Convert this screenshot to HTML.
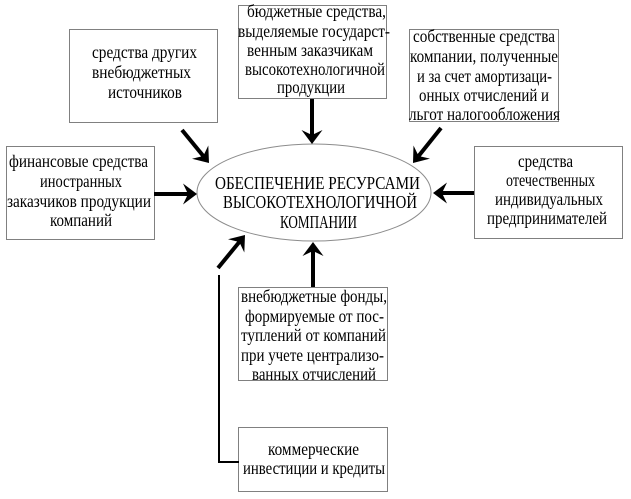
<!DOCTYPE html>
<html>
<head>
<meta charset="utf-8">
<style>
  html, body { margin:0; padding:0; background:#fff; }
  body { width:631px; height:499px; overflow:hidden; }
  svg { display:block; }
  text { font-family: "Liberation Serif", "DejaVu Serif", serif; fill:#000; }
  .t { font-size:17.5px; }
  .e { font-size:17.5px; }
</style>
</head>
<body>
<svg width="631" height="499" viewBox="0 0 631 499" xmlns="http://www.w3.org/2000/svg">
  <rect x="0" y="0" width="631" height="499" fill="#fff"/>

  <!-- Boxes -->
  <g fill="#fff" stroke="#808080" stroke-width="1">
    <rect x="69.5" y="29.5" width="148" height="93"/>
    <rect x="238.5" y="5.5" width="148" height="93"/>
    <rect x="409.5" y="29.5" width="149" height="92"/>
    <rect x="6.5" y="146.5" width="148" height="93"/>
    <rect x="474.5" y="146.5" width="148" height="92"/>
    <rect x="238.5" y="287.5" width="149" height="93"/>
    <rect x="238.5" y="427.5" width="149" height="64"/>
  </g>

  <!-- Ellipse -->
  <ellipse cx="314" cy="192.5" rx="117" ry="48.5" fill="#fff" stroke="#8c8c8c" stroke-width="1"/>

  <!-- Connector line -->
  <polyline points="239,462 219,462 219,275" fill="none" stroke="#000" stroke-width="2"/>

  <!-- Arrow shafts -->
  <g stroke="#000" stroke-width="4" fill="none">
    <line x1="312" y1="99" x2="312" y2="136"/>
    <line x1="154" y1="194" x2="189" y2="194"/>
    <line x1="474" y1="193" x2="441" y2="193"/>
    <line x1="313" y1="287" x2="313" y2="250"/>
    <line x1="182" y1="130" x2="203.3" y2="156"/>
    <line x1="441" y1="128" x2="418.6" y2="156"/>
    <line x1="218" y1="268" x2="239.3" y2="242"/>
  </g>
  <!-- Arrow heads -->
  <g fill="#000" stroke="none">
    <polygon points="312,144 301.5,130 312,135 322.5,130"/>
    <polygon points="197,194 183,183.5 188,194 183,204.5"/>
    <polygon points="433,193 447,182.5 442,193 447,203.5"/>
    <polygon points="313,242 302.5,256 313,251 323.5,256"/>
    <polygon points="209,163 192,158.8 203.3,156 208.3,145.5"/>
    <polygon points="413,163 430,158.6 418.6,156 413.5,145.5"/>
    <polygon points="245,235 228,239.2 239.3,242 244.3,252.5"/>
  </g>

  <!-- Box A -->
  <g class="t">
    <text x="92" y="58" textLength="105" lengthAdjust="spacingAndGlyphs">средства других</text>
    <text x="92" y="78" textLength="99" lengthAdjust="spacingAndGlyphs">внебюджетных</text>
    <text x="108" y="98" textLength="74" lengthAdjust="spacingAndGlyphs">источников</text>
  </g>

  <!-- Box C (top) -->
  <g class="t">
    <text x="247" y="17" textLength="139" lengthAdjust="spacingAndGlyphs">бюджетные средства,</text>
    <text x="238" y="37" textLength="152" lengthAdjust="spacingAndGlyphs">выделяемые государст-</text>
    <text x="247" y="56" textLength="126" lengthAdjust="spacingAndGlyphs">венным заказчикам</text>
    <text x="245" y="75" textLength="140" lengthAdjust="spacingAndGlyphs">высокотехнологичной</text>
    <text x="277" y="93" textLength="68" lengthAdjust="spacingAndGlyphs">продукции</text>
  </g>

  <!-- Box D -->
  <g class="t">
    <text x="413" y="42" textLength="142" lengthAdjust="spacingAndGlyphs">собственные средства</text>
    <text x="410" y="62" textLength="148" lengthAdjust="spacingAndGlyphs">компании, полученные</text>
    <text x="417" y="82" textLength="135" lengthAdjust="spacingAndGlyphs">и за счет амортизаци-</text>
    <text x="419" y="101" textLength="130" lengthAdjust="spacingAndGlyphs">онных отчислений и</text>
    <text x="409" y="120" textLength="151" lengthAdjust="spacingAndGlyphs">льгот налогообложения</text>
  </g>

  <!-- Box B -->
  <g class="t">
    <text x="9" y="167" textLength="139" lengthAdjust="spacingAndGlyphs">финансовые средства</text>
    <text x="40" y="187" textLength="82" lengthAdjust="spacingAndGlyphs">иностранных</text>
    <text x="7" y="207" textLength="144" lengthAdjust="spacingAndGlyphs">заказчиков продукции</text>
    <text x="50" y="226" textLength="62" lengthAdjust="spacingAndGlyphs">компаний</text>
  </g>

  <!-- Box E -->
  <g class="t">
    <text x="518" y="167" textLength="55" lengthAdjust="spacingAndGlyphs">средства</text>
    <text x="506" y="186" textLength="89" lengthAdjust="spacingAndGlyphs">отечественных</text>
    <text x="495" y="205" textLength="108" lengthAdjust="spacingAndGlyphs">индивидуальных</text>
    <text x="487" y="224" textLength="120" lengthAdjust="spacingAndGlyphs">предпринимателей</text>
  </g>

  <!-- Ellipse text -->
  <g class="e">
    <text x="215" y="189" textLength="205" lengthAdjust="spacingAndGlyphs">ОБЕСПЕЧЕНИЕ РЕСУРСАМИ</text>
    <text x="223" y="208" textLength="194" lengthAdjust="spacingAndGlyphs">ВЫСОКОТЕХНОЛОГИЧНОЙ</text>
    <text x="280" y="228" textLength="77" lengthAdjust="spacingAndGlyphs">КОМПАНИИ</text>
  </g>

  <!-- Box F -->
  <g class="t">
    <text x="241" y="302" textLength="146" lengthAdjust="spacingAndGlyphs">внебюджетные фонды,</text>
    <text x="245" y="322" textLength="139" lengthAdjust="spacingAndGlyphs">формируемые от пос-</text>
    <text x="241" y="341" textLength="145" lengthAdjust="spacingAndGlyphs">туплений от компаний</text>
    <text x="241" y="361" textLength="143" lengthAdjust="spacingAndGlyphs">при учете централизо-</text>
    <text x="252" y="380" textLength="124" lengthAdjust="spacingAndGlyphs">ванных отчислений</text>
  </g>

  <!-- Box G -->
  <g class="t">
    <text x="268" y="455" textLength="91" lengthAdjust="spacingAndGlyphs">коммерческие</text>
    <text x="243" y="474" textLength="142" lengthAdjust="spacingAndGlyphs">инвестиции и кредиты</text>
  </g>
</svg>
</body>
</html>
